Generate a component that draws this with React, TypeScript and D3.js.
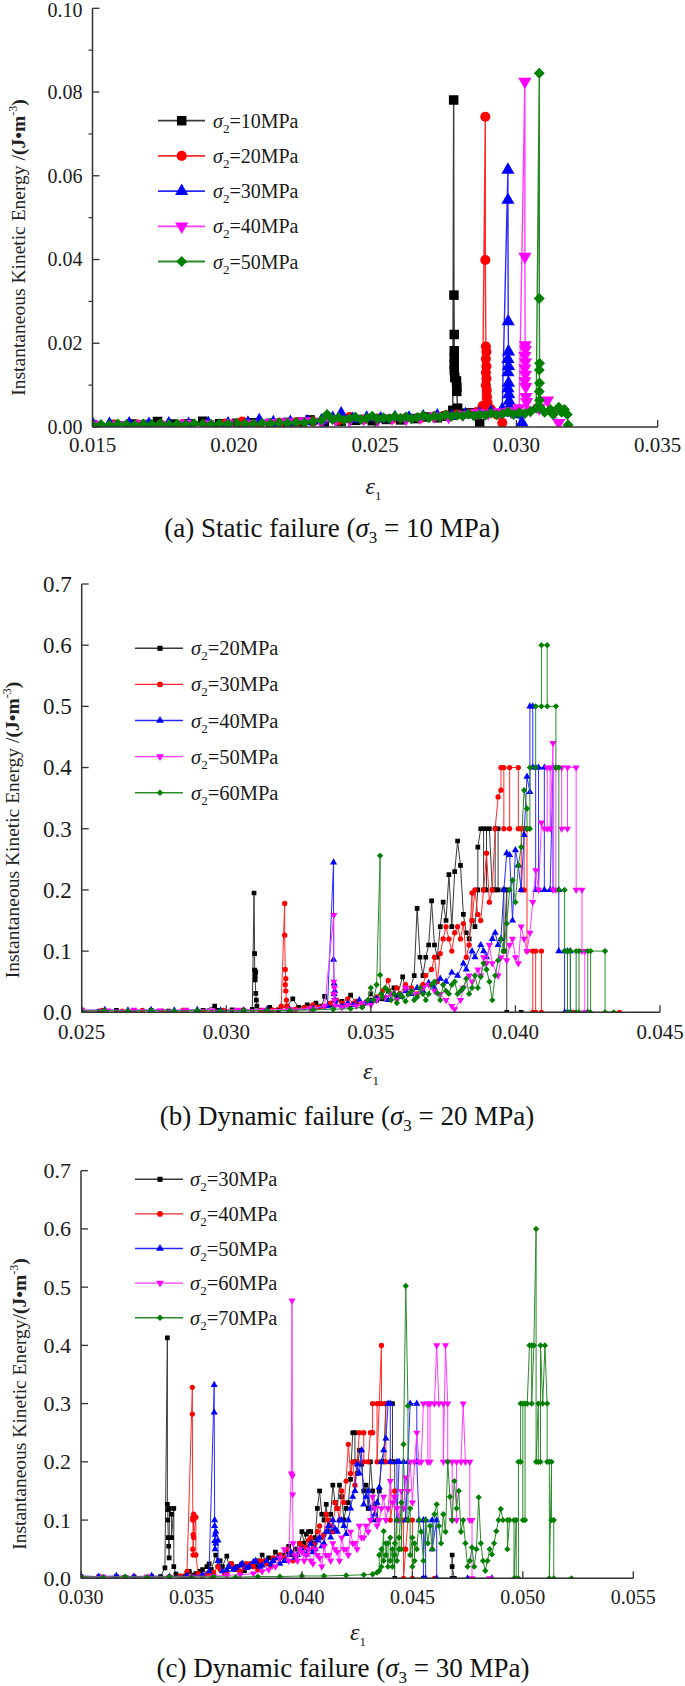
import React from "react";
import * as d3 from "d3";

const FONT = "Liberation Serif";
const COLORS = ["#000000", "#ff0000", "#0000ff", "#ff00ff", "#008000"];
const LINE_COLORS = ["#3a3a3a", "#ff2a2a", "#2a2aff", "#ff3cff", "#2a8a2a"];
const SHAPES = ["square", "circle", "triangle", "triangleDown", "diamond"];

// ---------------- Panel (a): static failure, sigma3 = 10 MPa ----------------
const aSigma2 = ["10", "20", "30", "40", "50"];
const aXTicks = [0.015, 0.02, 0.025, 0.03, 0.035];
const aYTicks = [0, 0.02, 0.04, 0.06, 0.08, 0.1];
const aYMinor = [0.01, 0.03, 0.05, 0.07, 0.09];

const a10: [number, number][] = [
  [0.015, 0.0005], [0.0157, 0.0006], [0.0164, 0.0007], [0.0169, 0.0006], [0.0173, 0.0013], [0.0178, 0.0007],
  [0.0184, 0.0008], [0.0189, 0.0014], [0.0195, 0.0008], [0.0201, 0.0009], [0.0207, 0.001], [0.0213, 0.0009],
  [0.0219, 0.0011], [0.0224, 0.0012], [0.0227, 0.0017], [0.0232, 0.0012], [0.0238, 0.0014], [0.0243, 0.0016],
  [0.0249, 0.0015], [0.0254, 0.0018], [0.0259, 0.0017], [0.0264, 0.002], [0.0268, 0.0024], [0.0272, 0.0022],
  [0.0275, 0.0026], [0.02775, 0.004], [0.02778, 0.0781], [0.02779, 0.0315], [0.0278, 0.0221], [0.0278, 0.0182],
  [0.0278, 0.0165], [0.0278, 0.015], [0.0278, 0.0135], [0.02782, 0.0118], [0.02788, 0.011], [0.02789, 0.0095],
  [0.02789, 0.0085], [0.02792, 0.0045], [0.0281, 0.0033], [0.0284, 0.0034], [0.0286, 0.0028], [0.0287, 0.0008],
];
const a20: [number, number][] = [
  [0.015, 0.0004], [0.0158, 0.0005], [0.0166, 0.0006], [0.0174, 0.0005], [0.0182, 0.0007], [0.019, 0.0006],
  [0.0197, 0.0008], [0.0203, 0.0013], [0.0209, 0.0009], [0.0216, 0.001], [0.0222, 0.0011], [0.0228, 0.0013],
  [0.0233, 0.0022], [0.0237, 0.0016], [0.0241, 0.0024], [0.0246, 0.0018], [0.0251, 0.002], [0.0256, 0.0019],
  [0.0261, 0.0022], [0.0266, 0.0021], [0.0271, 0.0025], [0.0275, 0.0028], [0.0279, 0.003], [0.0283, 0.0032],
  [0.0286, 0.0036], [0.0288, 0.005], [0.0289, 0.0741], [0.0289, 0.0399], [0.02892, 0.0192], [0.02894, 0.018],
  [0.02892, 0.0163], [0.02894, 0.0145], [0.02892, 0.013], [0.02894, 0.0115], [0.02892, 0.01], [0.02895, 0.0088],
  [0.02896, 0.0072], [0.02898, 0.0058], [0.0291, 0.0042], [0.0293, 0.003], [0.0295, 0.001],
];
const a30: [number, number][] = [
  [0.015, 0.0008], [0.0156, 0.0007], [0.0163, 0.0008], [0.017, 0.0007], [0.0177, 0.0008], [0.0184, 0.0007],
  [0.0191, 0.0009], [0.0198, 0.0008], [0.0205, 0.001], [0.0209, 0.0016], [0.0214, 0.0011], [0.022, 0.0012],
  [0.0226, 0.0013], [0.0231, 0.0015], [0.0235, 0.0021], [0.0238, 0.0032], [0.0242, 0.0019], [0.0247, 0.0022],
  [0.0252, 0.002], [0.0257, 0.0023], [0.0262, 0.0022], [0.0267, 0.0025], [0.0272, 0.0027], [0.0277, 0.0026],
  [0.0282, 0.003], [0.0287, 0.0032], [0.0291, 0.0036], [0.0295, 0.0042], [0.0297, 0.0614], [0.0297, 0.0542],
  [0.02971, 0.0252], [0.02972, 0.018], [0.0297, 0.0162], [0.02972, 0.0145], [0.0297, 0.013], [0.02972, 0.0105],
  [0.0297, 0.0092], [0.02973, 0.0078], [0.02974, 0.0062], [0.02975, 0.0048], [0.0298, 0.0034], [0.03, 0.003],
  [0.0302, 0.001],
];
const a40: [number, number][] = [
  [0.015, 0.0006], [0.0159, 0.0005], [0.0167, 0.0007], [0.0175, 0.0006], [0.0183, 0.0008], [0.0191, 0.0007],
  [0.0199, 0.0009], [0.0206, 0.0008], [0.0213, 0.001], [0.0219, 0.0012], [0.0225, 0.0014], [0.0231, 0.0013],
  [0.0236, 0.0018], [0.0241, 0.0017], [0.0246, 0.002], [0.0251, 0.0018], [0.0256, 0.0021], [0.0261, 0.002],
  [0.0266, 0.0023], [0.0271, 0.0026], [0.0276, 0.0025], [0.0281, 0.003], [0.0286, 0.0034], [0.029, 0.0033],
  [0.0294, 0.0036], [0.0298, 0.0038], [0.0301, 0.0045], [0.0303, 0.0825], [0.0303, 0.0407], [0.03031, 0.0196],
  [0.03032, 0.0185], [0.0303, 0.017], [0.03032, 0.0155], [0.0303, 0.014], [0.03032, 0.0125], [0.0303, 0.011],
  [0.03033, 0.0096], [0.03034, 0.0072], [0.03036, 0.006], [0.0305, 0.004], [0.0308, 0.0045], [0.0311, 0.0064],
  [0.0313, 0.0035], [0.0315, 0.001],
];
const a50: [number, number][] = [
  [0.015, 0.0005], [0.0153, 0.0006], [0.0156, 0.0005], [0.0159, 0.0007], [0.0162, 0.0006], [0.0165, 0.0005],
  [0.0168, 0.0007], [0.0171, 0.0006], [0.0174, 0.0008], [0.0177, 0.0006], [0.018, 0.0007], [0.0183, 0.0006],
  [0.0186, 0.0008], [0.0189, 0.0007], [0.0192, 0.0006], [0.0195, 0.0008], [0.0198, 0.0007], [0.0201, 0.0009],
  [0.0204, 0.0008], [0.0207, 0.0007], [0.021, 0.0009], [0.0213, 0.0008], [0.0216, 0.001], [0.0219, 0.0009],
  [0.0222, 0.0011], [0.0225, 0.001], [0.0228, 0.0013], [0.0231, 0.0016], [0.0233, 0.003], [0.0235, 0.0018],
  [0.0237, 0.0022], [0.0239, 0.0017], [0.0241, 0.002], [0.0243, 0.0024], [0.0245, 0.0018], [0.0247, 0.0021],
  [0.0249, 0.0026], [0.0251, 0.0019], [0.0253, 0.0022], [0.0255, 0.002], [0.0257, 0.0025], [0.0259, 0.0021],
  [0.0261, 0.0024], [0.0263, 0.002], [0.0265, 0.0023], [0.0267, 0.0027], [0.0269, 0.0022], [0.0271, 0.0026],
  [0.0273, 0.0024], [0.0275, 0.0029], [0.0277, 0.0025], [0.0279, 0.0028], [0.0281, 0.0026], [0.0283, 0.0031],
  [0.0285, 0.0027], [0.0287, 0.003], [0.0289, 0.0028], [0.0291, 0.0033], [0.0293, 0.0029], [0.0295, 0.0031],
  [0.0297, 0.0036], [0.0299, 0.003], [0.0301, 0.0034], [0.0303, 0.0032], [0.0305, 0.0037], [0.0307, 0.0045],
  [0.03081, 0.0845], [0.03081, 0.0307], [0.03082, 0.0152], [0.03081, 0.0136], [0.03082, 0.0105], [0.03081, 0.0085],
  [0.03082, 0.0064], [0.03083, 0.0048], [0.031, 0.0035], [0.0312, 0.0042], [0.0313, 0.003], [0.0315, 0.0047],
  [0.0316, 0.0035], [0.0317, 0.0042], [0.0318, 0.003], [0.03183, 0.0005],
];

// ---------------- Panel (b): dynamic failure, sigma3 = 20 MPa ----------------
const bSigma2 = ["20", "30", "40", "50", "60"];
const bXTicks = [0.025, 0.03, 0.035, 0.04, 0.045];
const bYTicks = [0, 0.1, 0.2, 0.3, 0.4, 0.5, 0.6, 0.7];

const b20: [number, number][] = [
  [0.025, 0.003], [0.0256, 0.002], [0.0262, 0.003], [0.0268, 0.002], [0.0274, 0.003], [0.028, 0.002],
  [0.0286, 0.003], [0.0292, 0.003], [0.0296, 0.01], [0.0297, 0.003], [0.0302, 0.004], [0.0306, 0.003],
  [0.0309, 0.005], [0.03096, 0.195], [0.03098, 0.096], [0.03098, 0.069], [0.031, 0.06], [0.03102, 0.066],
  [0.031, 0.053], [0.03102, 0.031], [0.03104, 0.02], [0.03106, 0.01], [0.0312, 0.003], [0.0315, 0.008],
  [0.0318, 0.004], [0.0321, 0.01], [0.0323, 0.022], [0.0325, 0.008], [0.0328, 0.012], [0.0331, 0.015],
  [0.0333, 0.01], [0.0334, 0.026], [0.0336, 0.012], [0.0338, 0.02], [0.034, 0.018], [0.0342, 0.012],
  [0.0343, 0.028], [0.0345, 0.015], [0.0347, 0.012], [0.035, 0.03], [0.0352, 0.02], [0.0354, 0.022],
  [0.0356, 0.035], [0.0358, 0.04], [0.0359, 0.025], [0.0361, 0.058], [0.0362, 0.04], [0.0363, 0.03],
  [0.0365, 0.06], [0.0366, 0.17], [0.0367, 0.09], [0.0368, 0.06], [0.0369, 0.09], [0.037, 0.11],
  [0.0371, 0.182], [0.0372, 0.11], [0.0373, 0.09], [0.0374, 0.14], [0.0375, 0.18], [0.0376, 0.15],
  [0.0377, 0.225], [0.0378, 0.14], [0.0379, 0.23], [0.038, 0.28], [0.0381, 0.24], [0.0382, 0.16],
  [0.0383, 0.13], [0.0384, 0.12], [0.0385, 0.15], [0.0386, 0.14], [0.0387, 0.2], [0.0387, 0.27],
  [0.0388, 0.3], [0.0389, 0.3], [0.0389, 0.2], [0.039, 0.2], [0.039, 0.3], [0.0391, 0.3],
  [0.0392, 0.2], [0.0393, 0.2], [0.0393, 0.3], [0.0394, 0.3], [0.0394, 0.2], [0.0396, 0.2],
  [0.0396, 0.1], [0.0397, 0.2], [0.0397, 0], [0.0402, 0],
];
const b30: [number, number][] = [
  [0.025, 0.002], [0.0257, 0.003], [0.0264, 0.002], [0.0271, 0.003], [0.0278, 0.002], [0.0285, 0.003],
  [0.0292, 0.002], [0.0299, 0.003], [0.0306, 0.004], [0.0312, 0.003], [0.0316, 0.004], [0.0319, 0.01],
  [0.03202, 0.178], [0.03202, 0.126], [0.03204, 0.07], [0.03206, 0.055], [0.03204, 0.045], [0.03206, 0.035],
  [0.03208, 0.02], [0.0321, 0.01], [0.0324, 0.005], [0.0327, 0.008], [0.033, 0.012], [0.0332, 0.008],
  [0.0334, 0.01], [0.0336, 0.015], [0.0338, 0.02], [0.034, 0.015], [0.0342, 0.022], [0.0344, 0.015],
  [0.0345, 0.018], [0.0347, 0.012], [0.0348, 0.015], [0.035, 0.02], [0.0352, 0.025], [0.0354, 0.035],
  [0.0356, 0.052], [0.0357, 0.03], [0.0359, 0.04], [0.036, 0.03], [0.0362, 0.045], [0.0364, 0.04],
  [0.0366, 0.03], [0.0368, 0.045], [0.0369, 0.06], [0.0371, 0.07], [0.0372, 0.09], [0.0373, 0.05],
  [0.0374, 0.096], [0.0375, 0.12], [0.0376, 0.14], [0.0377, 0.12], [0.0378, 0.1], [0.0379, 0.13],
  [0.038, 0.14], [0.0381, 0.12], [0.0382, 0.145], [0.0383, 0.09], [0.0384, 0.11], [0.0385, 0.195],
  [0.0385, 0.15], [0.0386, 0.2], [0.0387, 0.16], [0.0388, 0.15], [0.0389, 0.2], [0.039, 0.26],
  [0.0391, 0.18], [0.0392, 0.2], [0.0393, 0.3], [0.0394, 0.352], [0.0395, 0.363], [0.0395, 0.4],
  [0.0396, 0.4], [0.0396, 0.3], [0.0398, 0.3], [0.0398, 0.4], [0.0401, 0.4], [0.0401, 0.3],
  [0.0402, 0.3], [0.0402, 0.2], [0.0403, 0.2], [0.0403, 0.3], [0.0404, 0.3], [0.0404, 0.1],
  [0.0406, 0.1], [0.0406, 0], [0.0407, 0], [0.0407, 0.1], [0.0409, 0.1], [0.0409, 0],
  [0.042, 0], [0.0436, 0],
];
const b40: [number, number][] = [
  [0.025, 0.003], [0.0258, 0.004], [0.0266, 0.003], [0.0274, 0.004], [0.0282, 0.003], [0.029, 0.004],
  [0.0298, 0.003], [0.0306, 0.003], [0.0314, 0.004], [0.0322, 0.004], [0.033, 0.006], [0.0335, 0.01],
  [0.03371, 0.245], [0.03371, 0.086], [0.03373, 0.047], [0.03375, 0.035], [0.03373, 0.03], [0.03376, 0.02],
  [0.0338, 0.012], [0.034, 0.01], [0.0342, 0.015], [0.0344, 0.012], [0.0346, 0.02], [0.0348, 0.015],
  [0.035, 0.018], [0.0352, 0.022], [0.0354, 0.025], [0.0356, 0.02], [0.0358, 0.03], [0.036, 0.025],
  [0.0362, 0.035], [0.0364, 0.03], [0.0366, 0.04], [0.0368, 0.035], [0.037, 0.048], [0.0372, 0.04],
  [0.0374, 0.055], [0.0376, 0.05], [0.0378, 0.065], [0.038, 0.06], [0.0382, 0.08], [0.0383, 0.07],
  [0.0385, 0.1], [0.0386, 0.09], [0.0388, 0.11], [0.0389, 0.1], [0.039, 0.09], [0.0392, 0.12],
  [0.0393, 0.13], [0.0394, 0.11], [0.0395, 0.12], [0.0396, 0.2], [0.0397, 0.26], [0.0398, 0.257],
  [0.0399, 0.15], [0.04, 0.265], [0.0401, 0.24], [0.0402, 0.2], [0.0403, 0.29], [0.0404, 0.385],
  [0.0405, 0.36], [0.0405, 0.5], [0.0406, 0.5], [0.0406, 0.4], [0.0407, 0.4], [0.0407, 0.2],
  [0.0408, 0.2], [0.0408, 0.4], [0.041, 0.4], [0.041, 0.2], [0.0412, 0.2], [0.0413, 0.4],
  [0.0413, 0.2], [0.0415, 0.2], [0.0415, 0.1], [0.0417, 0.1], [0.0417, 0], [0.0418, 0],
  [0.0418, 0.1], [0.0419, 0.1], [0.0419, 0], [0.0425, 0],
];
const b50: [number, number][] = [
  [0.025, 0.004], [0.0259, 0.003], [0.0268, 0.004], [0.0277, 0.003], [0.0286, 0.004], [0.0295, 0.003],
  [0.0304, 0.004], [0.0313, 0.004], [0.0322, 0.005], [0.0329, 0.006], [0.0334, 0.01], [0.03372, 0.159],
  [0.03372, 0.05], [0.03374, 0.04], [0.03372, 0.03], [0.03374, 0.02], [0.03376, 0.01], [0.034, 0.008],
  [0.0342, 0.012], [0.0345, 0.01], [0.0347, 0.015], [0.035, 0.012], [0.0352, 0.02], [0.0355, 0.025],
  [0.0357, 0.03], [0.0359, 0.02], [0.0362, 0.04], [0.0364, 0.035], [0.0366, 0.03], [0.0368, 0.04],
  [0.037, 0.045], [0.0372, 0.035], [0.0374, 0.03], [0.0376, 0.02], [0.0378, 0.01], [0.0379, 0.005],
  [0.0381, 0.02], [0.0382, 0.04], [0.0384, 0.06], [0.0385, 0.05], [0.0387, 0.07], [0.0388, 0.06],
  [0.0389, 0.09], [0.039, 0.08], [0.0391, 0.11], [0.0392, 0.08], [0.0394, 0.06], [0.0395, 0.09],
  [0.0397, 0.085], [0.0398, 0.11], [0.0399, 0.12], [0.04, 0.09], [0.0401, 0.08], [0.0402, 0.14],
  [0.0403, 0.12], [0.0404, 0.1], [0.0405, 0.13], [0.0406, 0.18], [0.0407, 0.232], [0.0408, 0.2],
  [0.0409, 0.31], [0.041, 0.3], [0.0411, 0.3], [0.0411, 0.4], [0.0412, 0.4], [0.0412, 0.3],
  [0.0413, 0.44], [0.0413, 0.2], [0.0414, 0.2], [0.0414, 0.4], [0.0416, 0.4], [0.0416, 0.3],
  [0.0418, 0.3], [0.0418, 0.4], [0.0421, 0.4], [0.0421, 0.2], [0.0423, 0.2], [0.0423, 0.1],
  [0.0424, 0.1], [0.0424, 0], [0.0425, 0],
];
const b60: [number, number][] = [
  [0.025, 0.002], [0.0258, 0.003], [0.0266, 0.002], [0.0274, 0.003], [0.0282, 0.002], [0.029, 0.003],
  [0.0298, 0.002], [0.0306, 0.003], [0.0314, 0.003], [0.0322, 0.003], [0.033, 0.004], [0.0337, 0.005],
  [0.0343, 0.006], [0.0347, 0.008], [0.0349, 0.02], [0.035, 0.04], [0.0351, 0.02], [0.0352, 0.045],
  [0.03532, 0.256], [0.03532, 0.061], [0.03535, 0.03], [0.0354, 0.025], [0.0355, 0.04], [0.0356, 0.035],
  [0.0357, 0.02], [0.0358, 0.03], [0.0359, 0.015], [0.036, 0.03], [0.0361, 0.025], [0.0362, 0.018],
  [0.0363, 0.03], [0.0364, 0.035], [0.0365, 0.02], [0.0366, 0.025], [0.0367, 0.04], [0.0368, 0.03],
  [0.0369, 0.02], [0.037, 0.03], [0.0371, 0.045], [0.0372, 0.05], [0.0373, 0.031], [0.0374, 0.02],
  [0.0375, 0.045], [0.0376, 0.035], [0.0377, 0.03], [0.0378, 0.045], [0.0379, 0.05], [0.038, 0.03],
  [0.0381, 0.035], [0.0382, 0.04], [0.0383, 0.055], [0.0384, 0.03], [0.0385, 0.04], [0.0386, 0.06],
  [0.0387, 0.04], [0.0388, 0.058], [0.0389, 0.08], [0.039, 0.07], [0.0391, 0.05], [0.0392, 0.02],
  [0.0393, 0.06], [0.0394, 0.085], [0.0395, 0.12], [0.0396, 0.1], [0.0397, 0.145], [0.0398, 0.2],
  [0.0399, 0.216], [0.04, 0.18], [0.0401, 0.24], [0.0402, 0.27], [0.0403, 0.363], [0.0404, 0.333],
  [0.0404, 0.3], [0.0405, 0.3], [0.0405, 0.4], [0.0407, 0.4], [0.0407, 0.5], [0.0409, 0.5],
  [0.0409, 0.6], [0.0411, 0.6], [0.0411, 0.5], [0.0414, 0.5], [0.0414, 0.4], [0.0415, 0.4],
  [0.0415, 0.2], [0.0417, 0.2], [0.0417, 0.1], [0.0418, 0.1], [0.0418, 0], [0.0419, 0],
  [0.0419, 0.1], [0.0421, 0.1], [0.0421, 0], [0.0422, 0], [0.0422, 0.1], [0.0425, 0.1],
  [0.0425, 0], [0.0426, 0], [0.0426, 0.1], [0.0431, 0.1], [0.0431, 0], [0.0434, 0],
];

// ---------------- Panel (c): dynamic failure, sigma3 = 30 MPa ----------------
const cSigma2 = ["30", "40", "50", "60", "70"];
const cXTicks = [0.03, 0.035, 0.04, 0.045, 0.05, 0.055];
const cYTicks = [0, 0.1, 0.2, 0.3, 0.4, 0.5, 0.6, 0.7];

const c30: [number, number][] = [
  [0.03, 0.003], [0.0308, 0.002], [0.0316, 0.003], [0.0324, 0.002], [0.0332, 0.003], [0.0336, 0.003],
  [0.0338, 0.018], [0.03391, 0.413], [0.03391, 0.127], [0.03393, 0.118], [0.03393, 0.1], [0.03395, 0.07],
  [0.03397, 0.055], [0.03399, 0.035], [0.034, 0.12], [0.0341, 0.11], [0.0341, 0.07], [0.0342, 0.12],
  [0.0342, 0.02], [0.0343, 0.007], [0.0346, 0.003], [0.0348, 0.008], [0.0349, 0.012], [0.0351, 0.005],
  [0.0352, 0.008], [0.0354, 0.012], [0.0355, 0.015], [0.0357, 0.02], [0.0358, 0.025], [0.0359, 0.015],
  [0.0361, 0.04], [0.0362, 0.02], [0.0363, 0.03], [0.0364, 0.02], [0.0366, 0.038], [0.0367, 0.02],
  [0.0368, 0.025], [0.037, 0.015], [0.0371, 0.02], [0.0373, 0.025], [0.0374, 0.013], [0.0376, 0.02],
  [0.0377, 0.025], [0.0379, 0.02], [0.038, 0.03], [0.0381, 0.025], [0.0382, 0.04], [0.0384, 0.03],
  [0.0385, 0.035], [0.0387, 0.03], [0.0388, 0.045], [0.039, 0.035], [0.0391, 0.04], [0.0393, 0.045],
  [0.0394, 0.055], [0.0396, 0.04], [0.0397, 0.05], [0.0399, 0.06], [0.04, 0.08], [0.0401, 0.06],
  [0.0402, 0.076], [0.0403, 0.08], [0.0404, 0.08], [0.0405, 0.06], [0.0406, 0.07], [0.0407, 0.12],
  [0.0408, 0.15], [0.0409, 0.11], [0.041, 0.1], [0.0411, 0.127], [0.0412, 0.08], [0.0413, 0.11],
  [0.0414, 0.16], [0.0415, 0.13], [0.0416, 0.12], [0.0417, 0.16], [0.0418, 0.14], [0.0419, 0.1],
  [0.042, 0.12], [0.0421, 0.13], [0.0422, 0.17], [0.0423, 0.25], [0.0424, 0.25], [0.0424, 0.2],
  [0.0425, 0.18], [0.0426, 0.22], [0.0427, 0.196], [0.0428, 0.15], [0.0429, 0.16], [0.043, 0.12],
  [0.0431, 0.2], [0.0432, 0.15], [0.0433, 0.127], [0.0434, 0.1], [0.0435, 0.15], [0.0436, 0.2],
  [0.0437, 0.2], [0.0438, 0.3], [0.0441, 0.3], [0.0441, 0.2], [0.0442, 0.2], [0.0442, 0],
  [0.0455, 0], [0.0468, 0], [0.0468, 0.04], [0.0468, 0.02], [0.0469, 0],
];
const c40: [number, number][] = [
  [0.03, 0.002], [0.0308, 0.003], [0.0316, 0.002], [0.0324, 0.003], [0.0332, 0.002], [0.034, 0.003],
  [0.0345, 0.004], [0.0348, 0.012], [0.03504, 0.328], [0.03504, 0.282], [0.03506, 0.104], [0.03506, 0.1],
  [0.03508, 0.075], [0.03506, 0.05], [0.03508, 0.04], [0.0351, 0.11], [0.0351, 0.07], [0.0352, 0.105],
  [0.0352, 0.04], [0.0353, 0.008], [0.0355, 0.004], [0.0357, 0.008], [0.0359, 0.005], [0.036, 0.01],
  [0.0362, 0.02], [0.0363, 0.015], [0.0365, 0.008], [0.0366, 0.01], [0.0368, 0.025], [0.0369, 0.02],
  [0.0371, 0.015], [0.0372, 0.012], [0.0374, 0.018], [0.0375, 0.025], [0.0377, 0.025], [0.0378, 0.02],
  [0.038, 0.015], [0.0381, 0.03], [0.0383, 0.03], [0.0384, 0.025], [0.0386, 0.02], [0.0387, 0.035],
  [0.0389, 0.035], [0.039, 0.04], [0.0392, 0.036], [0.0393, 0.05], [0.0395, 0.045], [0.0396, 0.03],
  [0.0398, 0.04], [0.0399, 0.06], [0.04, 0.055], [0.0402, 0.053], [0.0403, 0.065], [0.0404, 0.07],
  [0.0405, 0.05], [0.0406, 0.06], [0.0407, 0.08], [0.0408, 0.09], [0.0409, 0.07], [0.041, 0.075],
  [0.0411, 0.11], [0.0412, 0.1], [0.0413, 0.09], [0.0414, 0.08], [0.0415, 0.13], [0.0416, 0.12],
  [0.0417, 0.1], [0.0418, 0.15], [0.0419, 0.13], [0.042, 0.167], [0.0421, 0.23], [0.0422, 0.18],
  [0.0423, 0.2], [0.0424, 0.16], [0.0425, 0.2], [0.0426, 0.25], [0.0428, 0.25], [0.0428, 0.2],
  [0.043, 0.2], [0.0431, 0.25], [0.0432, 0.25], [0.0432, 0.3], [0.0434, 0.3], [0.0434, 0.2],
  [0.0435, 0.3], [0.0436, 0.4], [0.0436, 0.3], [0.0438, 0.3], [0.0438, 0.2], [0.044, 0.2],
  [0.044, 0.1], [0.0442, 0.15], [0.0444, 0.1], [0.0446, 0.1], [0.0446, 0], [0.0447, 0.05],
  [0.0448, 0.1], [0.045, 0.1], [0.045, 0], [0.046, 0],
];
const c50: [number, number][] = [
  [0.03, 0.004], [0.0308, 0.003], [0.0316, 0.004], [0.0324, 0.003], [0.0332, 0.004], [0.034, 0.003],
  [0.0348, 0.004], [0.0355, 0.006], [0.0358, 0.012], [0.03603, 0.332], [0.03603, 0.285], [0.03605, 0.1],
  [0.03605, 0.09], [0.03607, 0.075], [0.03605, 0.064], [0.03607, 0.05], [0.0361, 0.08], [0.0361, 0.06],
  [0.0362, 0.065], [0.0362, 0.03], [0.0364, 0.012], [0.0366, 0.015], [0.0367, 0.02], [0.0369, 0.015],
  [0.037, 0.018], [0.0372, 0.022], [0.0373, 0.025], [0.0375, 0.018], [0.0376, 0.02], [0.0378, 0.028],
  [0.0379, 0.03], [0.0381, 0.02], [0.0382, 0.022], [0.0384, 0.03], [0.0386, 0.024], [0.0387, 0.03],
  [0.0389, 0.035], [0.039, 0.025], [0.0392, 0.03], [0.0394, 0.04], [0.0395, 0.045], [0.0397, 0.035],
  [0.0398, 0.04], [0.04, 0.05], [0.0402, 0.041], [0.0403, 0.05], [0.0404, 0.06], [0.0405, 0.045],
  [0.0406, 0.05], [0.0407, 0.065], [0.0408, 0.07], [0.0409, 0.055], [0.041, 0.06], [0.0411, 0.08],
  [0.0412, 0.09], [0.0413, 0.07], [0.0414, 0.1], [0.0415, 0.085], [0.0416, 0.08], [0.0417, 0.1],
  [0.0418, 0.1], [0.0419, 0.09], [0.042, 0.076], [0.0421, 0.1], [0.0422, 0.12], [0.0423, 0.14],
  [0.0424, 0.15], [0.0425, 0.196], [0.0426, 0.18], [0.0427, 0.22], [0.0428, 0.127], [0.0429, 0.14],
  [0.043, 0.15], [0.0431, 0.12], [0.0432, 0.1], [0.0433, 0.11], [0.0434, 0.13], [0.0435, 0.156],
  [0.0436, 0.2], [0.0437, 0.22], [0.0438, 0.24], [0.0439, 0.3], [0.044, 0.3], [0.044, 0.2],
  [0.0443, 0.2], [0.0443, 0.1], [0.0444, 0.2], [0.0446, 0.2], [0.0447, 0.1], [0.0448, 0.2],
  [0.0449, 0.3], [0.0452, 0.3], [0.0452, 0.2], [0.0453, 0.1], [0.0455, 0.1], [0.0455, 0],
  [0.0456, 0], [0.0456, 0.1], [0.0459, 0.1], [0.0459, 0.05], [0.0461, 0.1], [0.0461, 0],
  [0.0475, 0], [0.0486, 0],
];
const c60: [number, number][] = [
  [0.03, 0.002], [0.031, 0.003], [0.032, 0.002], [0.033, 0.003], [0.034, 0.002], [0.035, 0.003],
  [0.036, 0.004], [0.0366, 0.005], [0.0372, 0.006], [0.0378, 0.008], [0.0382, 0.012], [0.0385, 0.015],
  [0.0388, 0.02], [0.039, 0.035], [0.0392, 0.05], [0.0394, 0.03], [0.03952, 0.18], [0.03955, 0.477],
  [0.03957, 0.176], [0.03958, 0.144], [0.0396, 0.06], [0.0397, 0.04], [0.0398, 0.03], [0.0399, 0.05],
  [0.04, 0.045], [0.0401, 0.03], [0.0402, 0.04], [0.0403, 0.05], [0.0404, 0.03], [0.0405, 0.025],
  [0.0406, 0.05], [0.0407, 0.04], [0.0408, 0.035], [0.0409, 0.02], [0.041, 0.055], [0.0411, 0.04],
  [0.0412, 0.04], [0.0413, 0.03], [0.0414, 0.06], [0.0415, 0.05], [0.0416, 0.045], [0.0417, 0.03],
  [0.0418, 0.07], [0.0419, 0.05], [0.042, 0.05], [0.0421, 0.04], [0.0422, 0.08], [0.0423, 0.06],
  [0.0424, 0.06], [0.0425, 0.05], [0.0426, 0.09], [0.0427, 0.07], [0.0428, 0.07], [0.0429, 0.09],
  [0.043, 0.08], [0.0431, 0.1], [0.0432, 0.14], [0.0433, 0.12], [0.0434, 0.09], [0.0435, 0.1],
  [0.0436, 0.12], [0.0437, 0.14], [0.0438, 0.1], [0.0439, 0.12], [0.044, 0.167], [0.0441, 0.13],
  [0.0442, 0.14], [0.0443, 0.12], [0.0444, 0.1], [0.0445, 0.15], [0.0446, 0.12], [0.0447, 0.173],
  [0.0448, 0.15], [0.0449, 0.2], [0.045, 0.13], [0.0451, 0.2], [0.0452, 0.25], [0.0453, 0.2],
  [0.0454, 0.2], [0.0455, 0.3], [0.0457, 0.3], [0.0457, 0.2], [0.0458, 0.2], [0.0458, 0.3],
  [0.046, 0.3], [0.0461, 0.4], [0.0462, 0.3], [0.0464, 0.3], [0.0464, 0.2], [0.0465, 0.4],
  [0.0466, 0.3], [0.0466, 0.2], [0.0468, 0.2], [0.0468, 0.1], [0.047, 0.1], [0.047, 0.2],
  [0.0472, 0.2], [0.0473, 0.3], [0.0474, 0.2], [0.0476, 0.2], [0.0476, 0.1], [0.0477, 0.1],
  [0.0477, 0], [0.0485, 0],
];
const c70: [number, number][] = [
  [0.03, 0.003], [0.031, 0.002], [0.032, 0.003], [0.033, 0.002], [0.034, 0.003], [0.035, 0.002],
  [0.036, 0.003], [0.037, 0.002], [0.038, 0.003], [0.039, 0.003], [0.04, 0.004], [0.041, 0.004],
  [0.042, 0.005], [0.0428, 0.006], [0.0432, 0.007], [0.0434, 0.01], [0.0435, 0.013], [0.0435, 0.04],
  [0.0436, 0.05], [0.0436, 0.02], [0.0437, 0.081], [0.0437, 0.03], [0.0438, 0.04], [0.0438, 0.06],
  [0.0439, 0.02], [0.0439, 0.06], [0.044, 0.07], [0.044, 0.03], [0.0441, 0.05], [0.0441, 0.02],
  [0.0442, 0.06], [0.0442, 0.04], [0.0443, 0.1], [0.0443, 0.03], [0.0444, 0.05], [0.0444, 0.07],
  [0.0445, 0.13], [0.0445, 0.05], [0.0446, 0.23], [0.0447, 0.502], [0.0448, 0.296], [0.0448, 0.1],
  [0.0449, 0.12], [0.0449, 0.04], [0.045, 0.07], [0.045, 0.02], [0.0451, 0.03], [0.0451, 0.06],
  [0.0452, 0.05], [0.0453, 0.1], [0.0454, 0.08], [0.0455, 0.03], [0.0456, 0.1], [0.0457, 0.06],
  [0.0458, 0.09], [0.0459, 0.05], [0.046, 0.11], [0.0461, 0.127], [0.0462, 0.09], [0.0463, 0.06],
  [0.0464, 0.11], [0.0465, 0.08], [0.0466, 0.2], [0.0467, 0.14], [0.0468, 0.1], [0.0469, 0.167],
  [0.047, 0.12], [0.0471, 0.15], [0.0472, 0.08], [0.0473, 0.1], [0.0474, 0.06], [0.0475, 0.02],
  [0.0476, 0.03], [0.0477, 0.053], [0.0478, 0.02], [0.0479, 0.05], [0.048, 0.139], [0.0481, 0.06],
  [0.0482, 0.03], [0.0483, 0.013], [0.0484, 0.03], [0.0485, 0.05], [0.0486, 0.041], [0.0487, 0.06],
  [0.0488, 0.081], [0.0489, 0.1], [0.049, 0.119], [0.0491, 0.1], [0.0493, 0.1], [0.0493, 0.05],
  [0.0494, 0.1], [0.0496, 0.1], [0.0496, 0], [0.0497, 0.1], [0.0497, 0], [0.0498, 0],
  [0.0498, 0.2], [0.0499, 0.2], [0.0499, 0.3], [0.05, 0.3], [0.05, 0.1], [0.0501, 0.1],
  [0.0501, 0.3], [0.0502, 0.3], [0.0503, 0.4], [0.0504, 0.4], [0.0504, 0.3], [0.0505, 0.4],
  [0.0506, 0.6], [0.0506, 0.2], [0.0507, 0.3], [0.0507, 0.2], [0.0508, 0.2], [0.0508, 0.4],
  [0.0509, 0.3], [0.051, 0.4], [0.0511, 0.3], [0.0511, 0.2], [0.0512, 0.2], [0.0512, 0],
  [0.0513, 0.2], [0.0513, 0.1], [0.0514, 0.1], [0.0514, 0], [0.0522, 0],
];

type Pt = [number, number];
type Panel = {
  id: string;
  xDomain: [number, number];
  yDomain: [number, number];
  left: number; right: number; top: number; bottom: number;
  xTicks: number[]; yTicks: number[]; yMinor: number[];
  yDec: number;
  series: Pt[][];
  sigma2: string[];
  markerSize: number[];
  lineW: number;
  legend: { x1: number; x2: number; mx: number; y0: number; dy: number; tx: number; fs: number; ms: number[] };
  yTickFs: number; xTickFs: number; xTickBase: number;
  yLab: { x: number; cy: number; sep: string };
  eps: { x: number; y: number };
  cap: { x: number; y: number; pre: string; s3: string };
};

const panels: Panel[] = [
  {
    id: "a", xDomain: [0.015, 0.035], yDomain: [0, 0.1],
    left: 92.5, right: 657.7, top: 8.3, bottom: 427,
    xTicks: aXTicks, yTicks: aYTicks, yMinor: aYMinor, yDec: 2,
    series: [a10, a20, a30, a40, a50], sigma2: aSigma2,
    markerSize: [90, 80, 75, 75, 60], lineW: 1.4,
    legend: { x1: 158, x2: 205, mx: 181.7, y0: 120.7, dy: 35.2, tx: 213, fs: 20, ms: [90, 80, 75, 75, 60] },
    yTickFs: 20, xTickFs: 21, xTickBase: 451.5,
    yLab: { x: 25, cy: 247.5, sep: " /" },
    eps: { x: 373.5, y: 494 },
    cap: { x: 332, y: 537, pre: "(a) Static failure (", s3: " = 10 MPa)" },
  },
  {
    id: "b", xDomain: [0.025, 0.045], yDomain: [0, 0.7],
    left: 81.7, right: 660, top: 584, bottom: 1012.3,
    xTicks: bXTicks, yTicks: bYTicks, yMinor: [], yDec: 1,
    series: [b20, b30, b40, b50, b60], sigma2: bSigma2,
    markerSize: [22, 22, 22, 22, 20], lineW: 1.0,
    legend: { x1: 135, x2: 183, mx: 160, y0: 648.3, dy: 36.1, tx: 191, fs: 20.5, ms: [26, 26, 26, 26, 22] },
    yTickFs: 23, xTickFs: 21, xTickBase: 1038.5,
    yLab: { x: 18.5, cy: 830, sep: " /" },
    eps: { x: 371, y: 1079 },
    cap: { x: 347, y: 1125, pre: "(b) Dynamic failure (", s3: " = 20 MPa)" },
  },
  {
    id: "c", xDomain: [0.03, 0.055], yDomain: [0, 0.7],
    left: 81, right: 633.3, top: 1170.7, bottom: 1578.3,
    xTicks: cXTicks, yTicks: cYTicks, yMinor: [], yDec: 1,
    series: [c30, c40, c50, c60, c70], sigma2: cSigma2,
    markerSize: [22, 22, 22, 22, 20], lineW: 1.0,
    legend: { x1: 135, x2: 183, mx: 160, y0: 1179.3, dy: 34.6, tx: 190, fs: 20.5, ms: [26, 26, 26, 26, 22] },
    yTickFs: 22, xTickFs: 20, xTickBase: 1603.5,
    yLab: { x: 26, cy: 1404, sep: "/" },
    eps: { x: 358, y: 1640 },
    cap: { x: 343, y: 1677, pre: "(c) Dynamic failure (", s3: " = 30 MPa)" },
  },
];

function symbolPath(shape: string, size: number): string {
  const t =
    shape === "square" || shape === "diamond"
      ? d3.symbolSquare
      : shape === "circle"
      ? d3.symbolCircle
      : d3.symbolTriangle;
  return d3.symbol(t, size)() || "";
}
function symbolRot(shape: string): number {
  return shape === "triangleDown" ? 180 : shape === "diamond" ? 45 : 0;
}

function PanelView({ p }: { p: Panel }) {
  const x = d3.scaleLinear().domain(p.xDomain).range([p.left, p.right]);
  const y = d3.scaleLinear().domain(p.yDomain).range([p.bottom, p.top]);
  const line = d3.line<Pt>().x((d) => x(d[0])).y((d) => y(d[1]));
  const clipId = `clip-${p.id}`;
  const axisColor = "#333";
  const textColor = "#1a1a1a";
  return (
    <g>
      <defs>
        <clipPath id={clipId}>
          <rect x={p.left} y={p.top - 12} width={p.right - p.left} height={p.bottom - p.top + 12} />
        </clipPath>
      </defs>
      <g clipPath={`url(#${clipId})`}>
        {p.series.map((s, i) => {
          const sym = symbolPath(SHAPES[i], p.markerSize[i]);
          const rot = symbolRot(SHAPES[i]);
          return (
            <g key={i}>
              <path d={line(s) || ""} fill="none" stroke={LINE_COLORS[i]} strokeWidth={p.lineW} />
              {s.map((d, j) => (
                <path
                  key={j}
                  d={sym}
                  transform={`translate(${x(d[0]).toFixed(2)},${y(d[1]).toFixed(2)}) rotate(${rot})`}
                  fill={COLORS[i]}
                />
              ))}
            </g>
          );
        })}
      </g>
      <line x1={p.left} x2={p.left} y1={p.top} y2={p.bottom} stroke={axisColor} strokeWidth={1.5} />
      <line x1={p.left} x2={p.right} y1={p.bottom} y2={p.bottom} stroke={axisColor} strokeWidth={1.5} />
      {p.yTicks.map((t) => (
        <g key={`yt${t}`}>
          <line x1={p.left} x2={p.left + 7} y1={y(t)} y2={y(t)} stroke={axisColor} strokeWidth={1.3} />
          <text
            x={p.left - 10}
            y={Math.max(y(t) + p.yTickFs * 0.34, p.yTickFs * 0.86)}
            textAnchor="end"
            fontSize={p.yTickFs}
            fontFamily={FONT}
            fill={textColor}
          >
            {t.toFixed(p.yDec)}
          </text>
        </g>
      ))}
      {p.yMinor.map((t) => (
        <line key={`ym${t}`} x1={p.left - 4} x2={p.left} y1={y(t)} y2={y(t)} stroke={axisColor} strokeWidth={1.2} />
      ))}
      {p.xTicks.map((t) => (
        <g key={`xt${t}`}>
          <line x1={x(t)} x2={x(t)} y1={p.bottom} y2={p.bottom - 7} stroke={axisColor} strokeWidth={1.3} />
          <text x={x(t)} y={p.xTickBase} textAnchor="middle" fontSize={p.xTickFs} fontFamily={FONT} fill={textColor}>
            {t.toFixed(3)}
          </text>
        </g>
      ))}
      <text
        transform={`translate(${p.yLab.x},${p.yLab.cy}) rotate(-90)`}
        textAnchor="middle"
        fontSize={19.5}
        fontFamily={FONT}
        fill="#222"
      >
        {`Instantaneous Kinetic Energy${p.yLab.sep}`}
        <tspan fontWeight="bold">(J•m</tspan>
        <tspan fontSize={12} dy={-8}>-3</tspan>
        <tspan fontWeight="bold" dy={8}>)</tspan>
      </text>
      <text x={p.eps.x} y={p.eps.y} textAnchor="middle" fontSize={24} fontFamily={FONT} fill={textColor}>
        <tspan fontStyle="italic">ε</tspan>
        <tspan fontSize={13} dy={6}>1</tspan>
      </text>
      <text x={p.cap.x} y={p.cap.y} textAnchor="middle" fontSize={27} fontFamily={FONT} fill="#111">
        {p.cap.pre}
        <tspan fontStyle="italic">σ</tspan>
        <tspan fontSize={17} dy={6}>3</tspan>
        <tspan dy={-6}>{p.cap.s3}</tspan>
      </text>
      {p.sigma2.map((v, i) => {
        const ly = p.legend.y0 + i * p.legend.dy;
        const sym = symbolPath(SHAPES[i], p.legend.ms[i]);
        return (
          <g key={`lg${i}`}>
            <line x1={p.legend.x1} x2={p.legend.x2} y1={ly} y2={ly} stroke={LINE_COLORS[i]} strokeWidth={p.lineW + 0.4} />
            <path d={sym} transform={`translate(${p.legend.mx},${ly}) rotate(${symbolRot(SHAPES[i])})`} fill={COLORS[i]} />
            <text x={p.legend.tx} y={ly + 7} fontSize={p.legend.fs} fontFamily={FONT} fill={textColor}>
              <tspan fontStyle="italic">σ</tspan>
              <tspan fontSize={13} dy={5}>2</tspan>
              <tspan dy={-5}>{`=${v}MPa`}</tspan>
            </text>
          </g>
        );
      })}
    </g>
  );
}

export default function App() {
  return (
    <svg
      width={685}
      height={1686}
      viewBox="0 0 685 1686"
      style={{ position: "absolute", left: 0, top: 0, background: "#fff" }}
      xmlns="http://www.w3.org/2000/svg"
    >
      <rect x={0} y={0} width={685} height={1686} fill="#fff" />
      {panels.map((p) => (
        <PanelView key={p.id} p={p} />
      ))}
    </svg>
  );
}
